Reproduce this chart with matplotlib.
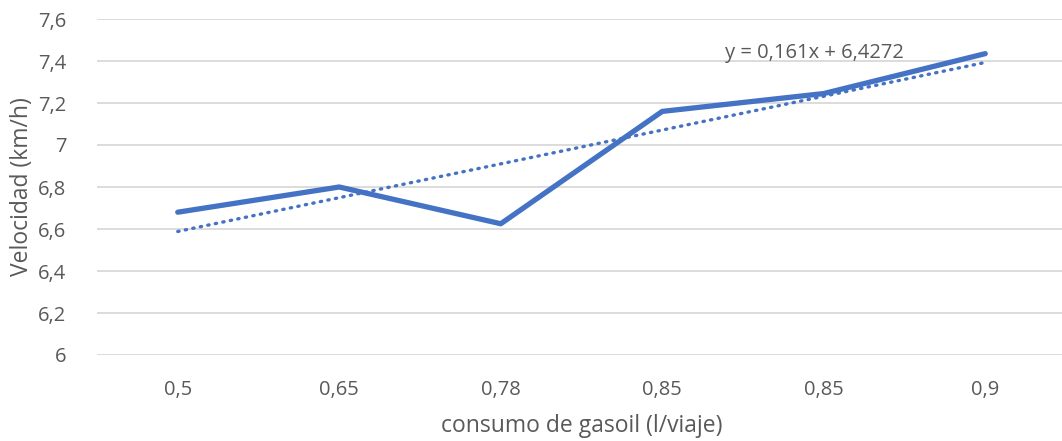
import numpy as np
import matplotlib.pyplot as plt

# consumo de gasoil por viaje (categorías) y velocidad media
consumo = ["0,5", "0,65", "0,78", "0,85", "0,85", "0,9"]
velocidad = [6.68, 6.80, 6.625, 7.16, 7.245, 7.435]
# línea de tendencia lineal sobre el índice de categoría
pendiente = 0.161
ordenada = 6.4272

plt.rcParams['font.family'] = ['Open Sans', 'DejaVu Sans']
gris = '#595959'
azul = '#4472C4'

fig = plt.figure(figsize=(10.62, 4.41), dpi=100)
ax = fig.add_axes([97 / 1062, 1 - 355 / 441, (1066 - 97) / 1062, (355 - 19) / 441])

x = np.arange(1, len(velocidad) + 1)
ax.plot(x, velocidad, color=azul, lw=3.8, solid_capstyle='round', zorder=3)
ax.plot(x, pendiente * x + ordenada, color=azul, lw=2.4, ls=(0, (0.4, 1.9)),
        dash_capstyle='round', zorder=2)
ax.text(4.94, 7.44, "y = 0,161x + 6,4272", color=gris, fontsize=14.5,
        ha='center', va='center')

ax.set_xlim(0.5, 6.5)
ax.set_ylim(6, 7.6)
ax.set_xticks(x)
ax.set_xticklabels(consumo)
yt = np.arange(6, 7.61, 0.2)
ax.set_yticks(yt)
ax.set_yticklabels([f"{v:g}".replace('.', ',') for v in np.round(yt, 1)])
ax.grid(axis='y', color='#D9D9D9', lw=1.3)
ax.set_axisbelow(True)
for s in ax.spines.values():
    s.set_visible(False)
ax.tick_params(length=0, labelsize=14.5, colors=gris)
ax.tick_params(axis='x', pad=18)
ax.tick_params(axis='y', pad=22)

ax.set_xlabel("consumo de gasoil (l/viaje)", fontsize=16.5, color=gris, labelpad=10)
ax.set_ylabel("Velocidad (km/h)", fontsize=16.5, color=gris, labelpad=3)

fig.savefig("out.png", dpi=100)
